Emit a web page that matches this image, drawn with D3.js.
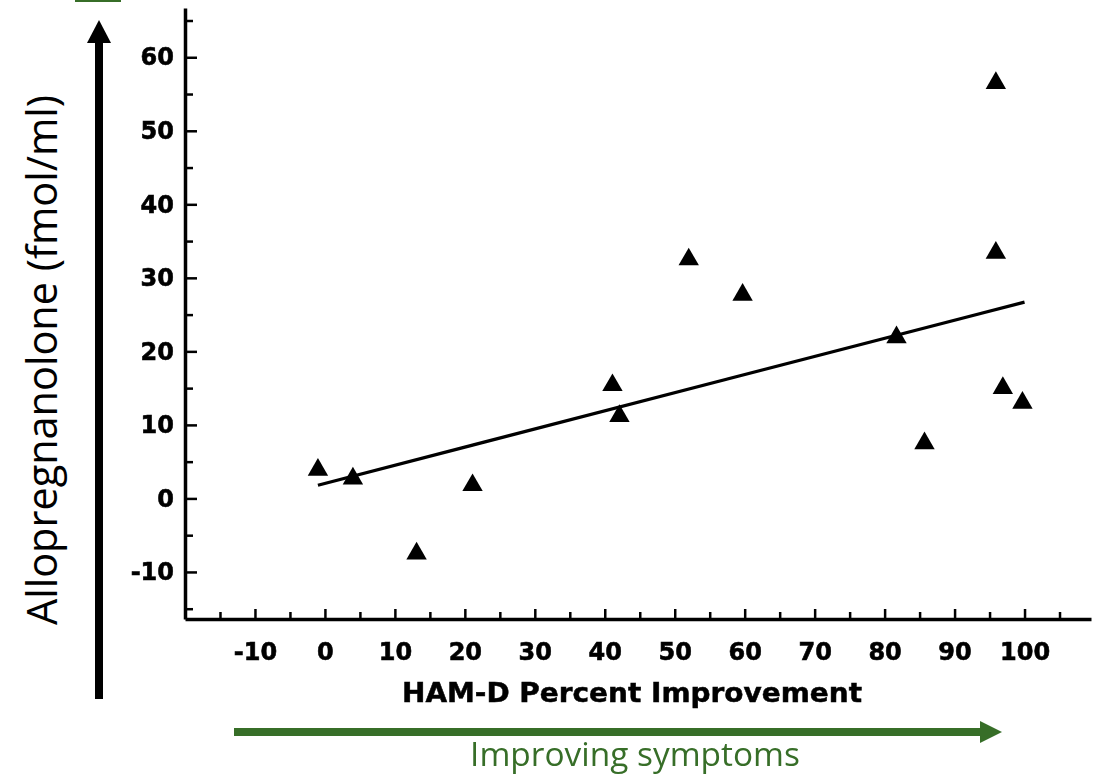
<!DOCTYPE html>
<html>
<head>
<meta charset="utf-8">
<script src="https://cdn.jsdelivr.net/npm/d3@7"></script>
<style>
  html, body { margin: 0; padding: 0; background: #fff; }
  svg { display: block; }
</style>
</head>
<body>
<svg id="chart" width="1099" height="777"></svg>
<script>
// HAM-D percent improvement (x) vs. allopregnanolone change (y)
const hamdImprovement = [-1.0, 4.0, 13.1, 21.1, 41.1, 42.1, 52.0, 59.7, 81.7, 85.7, 95.9, 95.9, 96.9, 99.7];
const allopregnanolone = [3.9, 2.7, -7.5, 1.8, 15.4, 11.2, 32.5, 27.7, 21.9, 7.5, 56.5, 33.4, 15.0, 13.0];

// Least-squares fit line end points
const fitX = [-1.0, 100.0];
const fitY = [1.8, 26.7];

// Axis tick values
const xMajorTicks = [-10, 0, 10, 20, 30, 40, 50, 60, 70, 80, 90, 100];
const xMinorTicks = [-15, -5, 5, 15, 25, 35, 45, 55, 65, 75, 85, 95, 105];
const yMajorTicks = [-10, 0, 10, 20, 30, 40, 50, 60];
const yMinorTicks = [-15, -5, 5, 15, 25, 35, 45, 55, 65];

const xTitle = "HAM-D Percent Improvement";
const yTitle = "Allopregnanolone (fmol/ml)";
const directionLabel = "Improving symptoms";

const svg = d3.select("#chart");
const green = "#376e28";

const defs = svg.append("defs");
defs.append("filter").attr("id", "soft")
  .append("feGaussianBlur").attr("stdDeviation", 0.55);

const x = d3.scaleLinear().domain([-20, 109.5]).range([185, 1091]);
const y = d3.scaleLinear().domain([-16.4, 66.7]).range([619, 8]);

// Plain hyphen for negatives, as printed on the axes
const fmt = d => String(d);

const plot = svg.append("g").attr("filter", "url(#soft)");

// Y axis: inward ticks, labels on the left
plot.append("g").attr("transform", `translate(${x(-20)},0)`)
  .call(d3.axisLeft(y).tickValues(yMajorTicks).tickFormat(fmt)
    .tickSizeInner(-12).tickSizeOuter(0).tickPadding(11));
plot.append("g").attr("transform", `translate(${x(-20)},0)`)
  .call(d3.axisLeft(y).tickValues(yMinorTicks).tickFormat("")
    .tickSizeInner(-8).tickSizeOuter(0))
  .call(g => g.select(".domain").remove());

// X axis: inward ticks, labels below
plot.append("g").attr("transform", `translate(0,${y(-16.4)})`)
  .call(d3.axisBottom(x).tickValues(xMajorTicks).tickFormat(fmt)
    .tickSizeInner(-10).tickSizeOuter(0).tickPadding(24));
plot.append("g").attr("transform", `translate(0,${y(-16.4)})`)
  .call(d3.axisBottom(x).tickValues(xMinorTicks).tickFormat("")
    .tickSizeInner(-7).tickSizeOuter(0))
  .call(g => g.select(".domain").remove());

plot.selectAll(".domain").attr("stroke", "#000").attr("stroke-width", 3.5);
plot.selectAll(".tick line").attr("stroke", "#000").attr("stroke-width", 2.5);
plot.selectAll(".tick text")
  .attr("fill", "#000")
  .attr("stroke", "#000")
  .attr("stroke-width", 0.6)
  .style("font-family", "'DejaVu Sans', sans-serif")
  .style("font-weight", "bold")
  .style("font-size", "24px");

// Axis title
plot.append("text")
  .attr("x", 632).attr("y", 702)
  .attr("text-anchor", "middle")
  .attr("stroke", "#000")
  .attr("stroke-width", 0.5)
  .style("font-family", "'DejaVu Sans', sans-serif")
  .style("font-weight", "bold")
  .style("font-size", "27px")
  .attr("textLength", 460).attr("lengthAdjust", "spacingAndGlyphs")
  .text(xTitle);

// Fit line
const line = d3.line().x(d => x(d[0])).y(d => y(d[1]));
plot.append("path")
  .datum(d3.zip(fitX, fitY))
  .attr("d", line)
  .attr("fill", "none")
  .attr("stroke", "#000")
  .attr("stroke-width", 3.2);

// Data points as filled triangles
const tri = d3.symbol().type(d3.symbolTriangle).size(180);
plot.append("g").selectAll("path")
  .data(d3.zip(hamdImprovement, allopregnanolone))
  .join("path")
  .attr("d", tri)
  .attr("transform", d => `translate(${x(d[0])},${y(d[1])})`)
  .attr("fill", "#000");

// Vertical black arrow
const ann = svg.append("g");
ann.append("rect").attr("x", 95).attr("y", 42).attr("width", 8).attr("height", 657).attr("fill", "#000");
ann.append("path").attr("d", "M87,43 L111,43 L99,20 Z").attr("fill", "#000");

// Rotated y title, fitted to its span
const yt = ann.append("text")
  .attr("transform", "translate(57,360) rotate(-90)")
  .attr("text-anchor", "middle")
  .style("font-family", "'Open Sans', sans-serif")
  .style("font-size", "34px")
  .attr("fill", "#000")
  .text(yTitle);
const ytw = yt.node().getComputedTextLength();
yt.style("font-size", (34 * 530 / ytw).toFixed(2) + "px");

// Horizontal green arrow
ann.append("rect").attr("x", 234).attr("y", 728).attr("width", 747).attr("height", 8).attr("fill", green);
ann.append("path").attr("d", "M980,721 L980,743 L1002,732 Z").attr("fill", green);

const gt = ann.append("text")
  .attr("x", 635).attr("y", 766)
  .attr("text-anchor", "middle")
  .style("font-family", "'Open Sans', sans-serif")
  .style("font-size", "34px")
  .attr("fill", green)
  .text(directionLabel);
const gtw = gt.node().getComputedTextLength();
gt.style("font-size", (34 * 330 / gtw).toFixed(2) + "px");

// Small green bar at the top edge
ann.append("rect").attr("x", 75).attr("y", 0).attr("width", 46).attr("height", 2).attr("fill", green);
</script>
</body>
</html>
